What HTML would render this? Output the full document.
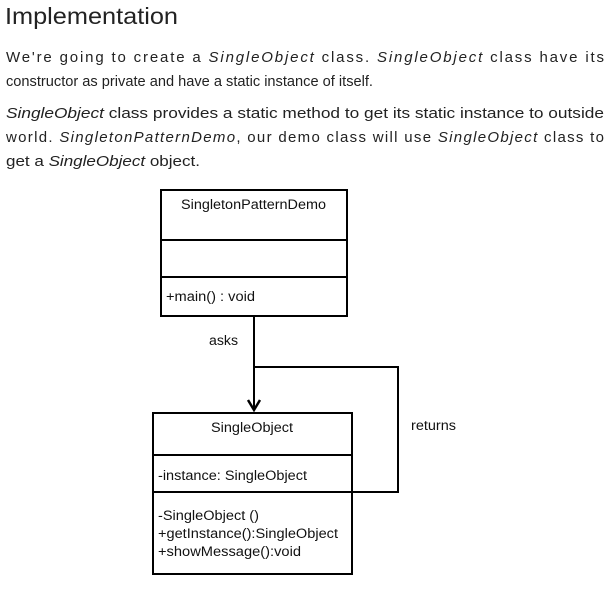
<!DOCTYPE html>
<html><head><meta charset="utf-8"><style>
html,body{margin:0;padding:0;background:#fff;width:611px;height:590px;overflow:hidden}
svg{display:block}
.t{font-family:"Liberation Sans",sans-serif;font-size:15px;fill:#222}
.d{font-family:"Liberation Sans",sans-serif;font-size:13.5px;fill:#111}
</style></head><body>
<svg width="611" height="590" xmlns="http://www.w3.org/2000/svg">
<text x="5" y="24" font-family="Liberation Sans,sans-serif" font-size="23" fill="#222" textLength="173" lengthAdjust="spacingAndGlyphs">Implementation</text>
<text class="t" x="6" y="62" textLength="598" lengthAdjust="spacing">We're going to create a <tspan font-style="italic">SingleObject</tspan> class. <tspan font-style="italic">SingleObject</tspan> class have its</text>
<text class="t" x="6" y="86" textLength="367" lengthAdjust="spacingAndGlyphs">constructor as private and have a static instance of itself.</text>
<text class="t" x="6" y="118" textLength="598" lengthAdjust="spacingAndGlyphs"><tspan font-style="italic">SingleObject</tspan> class provides a static method to get its static instance to outside</text>
<text class="t" x="6" y="142" textLength="598" lengthAdjust="spacing">world. <tspan font-style="italic">SingletonPatternDemo</tspan>, our demo class will use <tspan font-style="italic">SingleObject</tspan> class to</text>
<text class="t" x="6" y="166" textLength="194" lengthAdjust="spacingAndGlyphs">get a <tspan font-style="italic">SingleObject</tspan> object.</text>

<g fill="none" stroke="#000" stroke-width="2">
<rect x="161" y="190" width="186" height="126"/>
<line x1="161" y1="240" x2="347" y2="240"/>
<line x1="161" y1="277" x2="347" y2="277"/>
<rect x="153" y="413" width="199" height="161"/>
<line x1="153" y1="455" x2="352" y2="455"/>
<line x1="153" y1="492" x2="352" y2="492"/>
<line x1="254" y1="316" x2="254" y2="408"/>
<polyline points="248,400 254,410 260,400" stroke-width="2.5"/>
<polyline points="254,367 398,367 398,492 352,492"/>
</g>
<text class="d" x="181" y="209" textLength="145" lengthAdjust="spacingAndGlyphs">SingletonPatternDemo</text>
<text class="d" x="166" y="301" textLength="89" lengthAdjust="spacingAndGlyphs">+main() : void</text>
<text class="d" x="209" y="345" textLength="29" lengthAdjust="spacingAndGlyphs">asks</text>
<text class="d" x="211" y="432" textLength="82" lengthAdjust="spacingAndGlyphs">SingleObject</text>
<text class="d" x="411" y="430" textLength="45" lengthAdjust="spacingAndGlyphs">returns</text>
<text class="d" x="158" y="480" textLength="149" lengthAdjust="spacingAndGlyphs">-instance: SingleObject</text>
<text class="d" x="158" y="520" textLength="101" lengthAdjust="spacingAndGlyphs">-SingleObject ()</text>
<text class="d" x="158" y="538" textLength="180" lengthAdjust="spacingAndGlyphs">+getInstance():SingleObject</text>
<text class="d" x="158" y="556" textLength="143" lengthAdjust="spacingAndGlyphs">+showMessage():void</text>
</svg>
</body></html>
